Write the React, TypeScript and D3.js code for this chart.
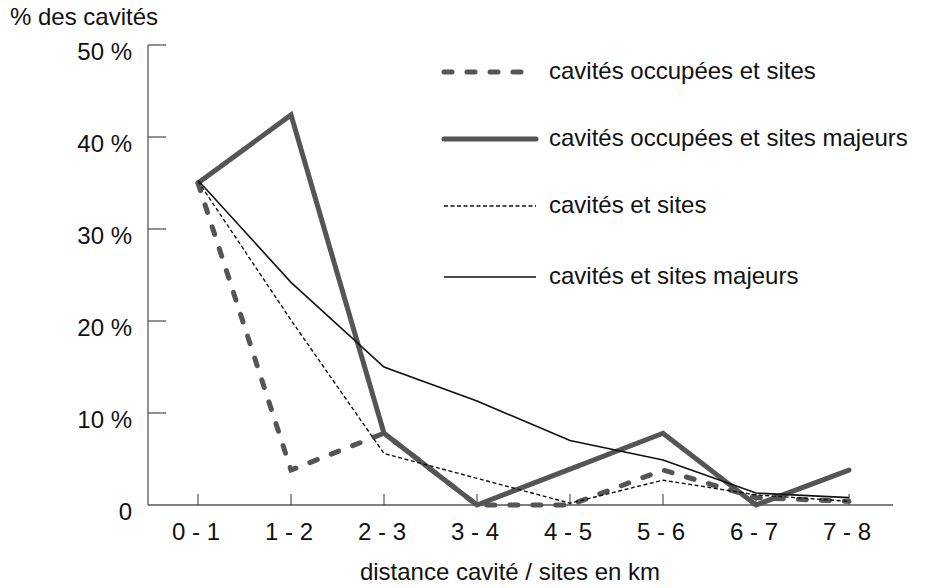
import * as d3 from "d3";

const categories = ["0 - 1", "1 - 2", "2 - 3", "3 - 4", "4 - 5", "5 - 6", "6 - 7", "7 - 8"];
// % des cavités per distance class
const occupeesSites = [35, 3.8, 7.8, 0, 0, 3.8, 0.8, 0.4];
const occupeesMajeurs = [35, 42.4, 7.8, 0, 3.9, 7.8, 0, 3.8];
const cavitesSites = [35.2, 20.1, 5.6, 2.9, 0.2, 2.7, 1.1, 0.4];
const cavitesMajeurs = [35.3, 24.2, 15, 11.3, 7, 4.9, 1.3, 0.8];
const yTicks = [0, 10, 20, 30, 40, 50];

const series = [
  { name: "cavités occupées et sites", values: occupeesSites, color: "#555", width: 5, dash: "8,15", cap: "round" },
  { name: "cavités occupées et sites majeurs", values: occupeesMajeurs, color: "#555", width: 5, dash: "none", cap: "round" },
  { name: "cavités et sites", values: cavitesSites, color: "#111", width: 1.4, dash: "4,2.5", cap: "butt" },
  { name: "cavités et sites majeurs", values: cavitesMajeurs, color: "#111", width: 1.6, dash: "none", cap: "butt" },
];

const W = 930;
const H = 588;
const font = "'Liberation Sans', Arial, Helvetica, sans-serif";
const fs = 24;

export default function App() {
  const x = d3.scalePoint<string>().domain(categories).range([198, 849]);
  const y = d3.scaleLinear().domain([0, 50]).range([505, 45]);
  const axisX0 = 148;
  const axisX1 = 893;

  const line = d3
    .line<number>()
    .x((_, i) => x(categories[i]) as number)
    .y((d) => y(d));

  const legendY = [72, 139, 206, 277];

  return (
    <svg width={W} height={H} style={{ position: "absolute", left: 0, top: 0, background: "#fff" }} fontFamily={font}>
      <text x={10} y={25} fontSize={fs} fill="#111">% des cavités</text>

      {/* y axis */}
      <line x1={axisX0} x2={axisX0} y1={y(50)} y2={y(0)} stroke="#555" strokeWidth={1.3} />
      {yTicks.map((t) => (
        <g key={t}>
          {t > 0 && <line x1={axisX0} x2={axisX0 + 18} y1={y(t)} y2={y(t)} stroke="#555" strokeWidth={1.3} />}
          <text x={132} y={y(t) + 14.5} textAnchor="end" fontSize={fs} fill="#111">
            {t === 0 ? "0" : `${t} %`}
          </text>
        </g>
      ))}

      {/* x axis */}
      <line x1={axisX0} x2={axisX1} y1={y(0)} y2={y(0)} stroke="#555" strokeWidth={1.3} />
      {categories.map((c) => (
        <g key={c}>
          <line x1={x(c)} x2={x(c)} y1={y(0)} y2={y(0) - 11} stroke="#555" strokeWidth={1.2} />
          <text x={(x(c) as number) - 2} y={540} textAnchor="middle" fontSize={fs} fill="#111">{c}</text>
        </g>
      ))}
      <text x={510} y={580} textAnchor="middle" fontSize={fs} fill="#111">
        distance cavité / sites en km
      </text>

      {/* series */}
      {series.map((s) => (
        <path
          key={s.name}
          d={line(s.values) as string}
          fill="none"
          stroke={s.color}
          strokeWidth={s.width}
          strokeDasharray={s.dash}
          strokeLinecap={s.cap as any}
          strokeLinejoin="miter"
        />
      ))}

      {/* legend */}
      {series.map((s, i) => (
        <g key={s.name}>
          <line
            x1={444}
            x2={536}
            y1={legendY[i]}
            y2={legendY[i]}
            stroke={s.color}
            strokeWidth={s.width}
            strokeDasharray={s.dash}
            strokeLinecap={s.cap as any}
          />
          <text x={549} y={legendY[i] + 7} fontSize={fs} fill="#111">{s.name}</text>
        </g>
      ))}
    </svg>
  );
}
